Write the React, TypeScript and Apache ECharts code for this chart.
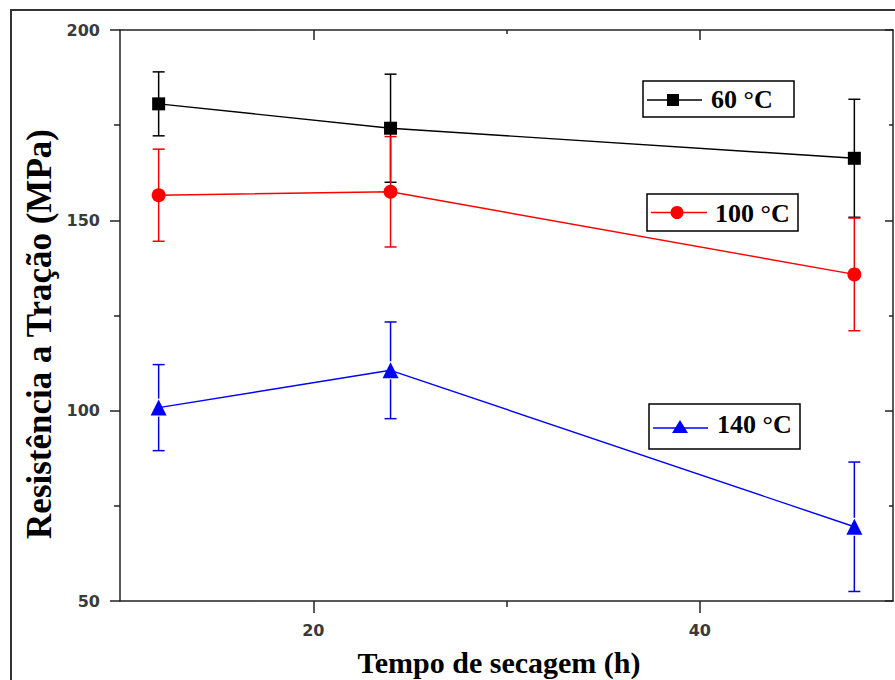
import React, { useEffect, useRef } from 'react';
import * as echarts from 'echarts';

const hours = [12, 24, 48];
const t60 = [180.6, 174.2, 166.3];
const t60Err = [8.4, 14.2, 15.5];
const t100 = [156.6, 157.5, 135.8];
const t100Err = [12.1, 14.5, 14.8];
const t140 = [100.8, 110.6, 69.5];
const t140Err = [11.3, 12.7, 17.0];
const seriesNames = ['60 °C', '100 °C', '140 °C'];
const xMajorTicks = [20, 40];
const xMinorTicks = [30];
const xTitle = 'Tempo de secagem (h)';
const yTitle = 'Resistência a Tração (MPa)';

const AX = '#222';
const LBL = { fontFamily: '"DejaVu Sans", Arial, sans-serif', fontSize: 16, fontWeight: 'bold', color: '#3a3a3a' };

function errorSeries(name: string, mean: number[], err: number[], color: string, gap: number) {
  return {
    type: 'custom',
    name: name + ' err',
    xAxisIndex: 0,
    yAxisIndex: 0,
    z: 1,
    data: hours.map((h, i) => [h, mean[i] - err[i], mean[i] + err[i], mean[i]]),
    encode: { x: 0, y: [1, 2] },
    renderItem: (params: any, api: any) => {
      const x = api.value(0);
      const lo = api.coord([x, api.value(1)]);
      const hi = api.coord([x, api.value(2)]);
      const mid = api.coord([x, api.value(3)]);
      const cap = 6;
      const style = { stroke: color, lineWidth: 1.5 };
      return {
        type: 'group',
        children: [
          { type: 'line', shape: { x1: hi[0], y1: hi[1], x2: mid[0], y2: mid[1] - gap }, style },
          { type: 'line', shape: { x1: mid[0], y1: mid[1] + gap, x2: lo[0], y2: lo[1] }, style },
          { type: 'line', shape: { x1: hi[0] - cap, y1: hi[1], x2: hi[0] + cap, y2: hi[1] }, style },
          { type: 'line', shape: { x1: lo[0] - cap, y1: lo[1], x2: lo[0] + cap, y2: lo[1] }, style },
        ],
      };
    },
  };
}

function lineSeries(name: string, mean: number[], color: string, symbol: string, size: number) {
  return {
    type: 'line',
    name,
    xAxisIndex: 0,
    yAxisIndex: 0,
    z: 3,
    data: hours.map((h, i) => [h, mean[i]]),
    symbol,
    symbolSize: size,
    showSymbol: true,
    lineStyle: { color, width: 1.4 },
    itemStyle: { color },
  };
}

const legendFont = { fontFamily: '"Liberation Serif", "Times New Roman", serif', fontWeight: 'bold', fontSize: 26, fill: '#000' };

export default function App() {
  const ref = useRef<HTMLDivElement>(null);
  useEffect(() => {
    if (!ref.current) return;
    const chart = echarts.init(ref.current, undefined, { renderer: 'svg' });
    const xCommon = { type: 'value', min: 10, max: 50, interval: 10, splitLine: { show: false } };
    const yCommon = { type: 'value', min: 50, max: 200, interval: 50, splitLine: { show: false } };
    chart.setOption({
      animation: false,
      backgroundColor: '#fff',
      grid: { left: 120, top: 30, right: 2, bottom: 79, containLabel: false },
      xAxis: [
        {
          ...xCommon,
          position: 'bottom',
          axisLine: { show: true, onZero: false, lineStyle: { color: AX, width: 1.5 } },
          axisTick: { show: true, customValues: xMajorTicks, length: 12, lineStyle: { color: AX, width: 1.5 } },
          axisLabel: { show: true, customValues: xMajorTicks, margin: 21, ...LBL },
        },
        {
          ...xCommon,
          position: 'bottom',
          axisLine: { show: false, onZero: false },
          axisTick: { show: true, customValues: xMinorTicks, length: 6, lineStyle: { color: AX, width: 1.5 } },
          axisLabel: { show: false },
        },
        {
          ...xCommon,
          position: 'top',
          axisLine: { show: true, onZero: false, lineStyle: { color: AX, width: 1.5 } },
          axisTick: { show: true, inside: true, customValues: xMajorTicks, length: 10, lineStyle: { color: AX, width: 1.5 } },
          axisLabel: { show: false },
        },
        {
          ...xCommon,
          position: 'top',
          axisLine: { show: false, onZero: false },
          axisTick: { show: true, inside: true, customValues: xMinorTicks, length: 4, lineStyle: { color: AX, width: 1.5 } },
          axisLabel: { show: false },
        },
      ],
      yAxis: [
        {
          ...yCommon,
          position: 'left',
          axisLine: { show: true, onZero: false, lineStyle: { color: AX, width: 1.5 } },
          axisTick: { show: true, length: 10, lineStyle: { color: AX, width: 1.5 } },
          minorTick: { show: true, splitNumber: 2, length: 6, lineStyle: { color: AX, width: 1.5 } },
          axisLabel: { show: true, margin: 20, ...LBL },
        },
        {
          ...yCommon,
          position: 'right',
          axisLine: { show: true, onZero: false, lineStyle: { color: AX, width: 1.5 } },
          axisTick: { show: true, inside: true, length: 8, lineStyle: { color: AX, width: 1.5 } },
          minorTick: { show: true, splitNumber: 2, length: 4, lineStyle: { color: AX, width: 1.5 } },
          axisLabel: { show: false },
        },
      ],
      series: [
        errorSeries(seriesNames[0], t60, t60Err, '#000000', 0),
        errorSeries(seriesNames[1], t100, t100Err, '#ee0000', 0),
        errorSeries(seriesNames[2], t140, t140Err, '#0000dd', 9),
        lineSeries(seriesNames[0], t60, '#000000', 'rect', 13),
        lineSeries(seriesNames[1], t100, '#ff0000', 'circle', 14),
        lineSeries(seriesNames[2], t140, '#0000ff', 'triangle', 16),
      ],
      graphic: [
        { type: 'rect', shape: { x: 11, y: 10, width: 900, height: 700 }, style: { fill: 'none', stroke: '#333', lineWidth: 2 }, z: 10 },
        {
          type: 'text', x: 499, y: 662,
          style: { text: xTitle, fontFamily: legendFont.fontFamily, fontWeight: 'bold', fontSize: 30, fill: '#000', align: 'center', verticalAlign: 'middle' },
        },
        {
          type: 'text', x: 39, y: 334, rotation: Math.PI / 2,
          style: { text: yTitle, fontFamily: legendFont.fontFamily, fontWeight: 'bold', fontSize: 35, fill: '#000', align: 'center', verticalAlign: 'middle' },
        },
        // legend 60
        { type: 'rect', shape: { x: 643, y: 81, width: 151, height: 36 }, style: { fill: '#fff', stroke: '#000', lineWidth: 1.5 }, z: 20 },
        { type: 'line', shape: { x1: 647, y1: 100, x2: 702, y2: 100 }, style: { stroke: '#000', lineWidth: 1.5 }, z: 21 },
        { type: 'rect', shape: { x: 667, y: 94, width: 12, height: 12 }, style: { fill: '#000' }, z: 22 },
        { type: 'text', x: 711, y: 99, style: { text: seriesNames[0], ...legendFont, align: 'left', verticalAlign: 'middle' }, z: 22 },
        // legend 100
        { type: 'rect', shape: { x: 647, y: 194, width: 151, height: 37 }, style: { fill: '#fff', stroke: '#000', lineWidth: 1.5 }, z: 20 },
        { type: 'line', shape: { x1: 651, y1: 212.5, x2: 707, y2: 212.5 }, style: { stroke: '#ff0000', lineWidth: 1.5 }, z: 21 },
        { type: 'circle', shape: { cx: 677, cy: 212.5, r: 6.5 }, style: { fill: '#ff0000' }, z: 22 },
        { type: 'text', x: 715, y: 213, style: { text: seriesNames[1], ...legendFont, align: 'left', verticalAlign: 'middle' }, z: 22 },
        // legend 140
        { type: 'rect', shape: { x: 649, y: 404, width: 151, height: 45 }, style: { fill: '#fff', stroke: '#000', lineWidth: 1.5 }, z: 20 },
        { type: 'line', shape: { x1: 653, y1: 428, x2: 708, y2: 428 }, style: { stroke: '#0000ff', lineWidth: 1.5 }, z: 21 },
        { type: 'polygon', shape: { points: [[680, 420], [672, 433], [688, 433]] }, style: { fill: '#0000ff' }, z: 22 },
        { type: 'text', x: 717, y: 424, style: { text: seriesNames[2], ...legendFont, align: 'left', verticalAlign: 'middle' }, z: 22 },
      ],
    });
    return () => chart.dispose();
  }, []);
  return <div ref={ref} style={{ position: 'fixed', left: 0, top: 0, width: 895, height: 680, background: '#fff' }} />;
}
